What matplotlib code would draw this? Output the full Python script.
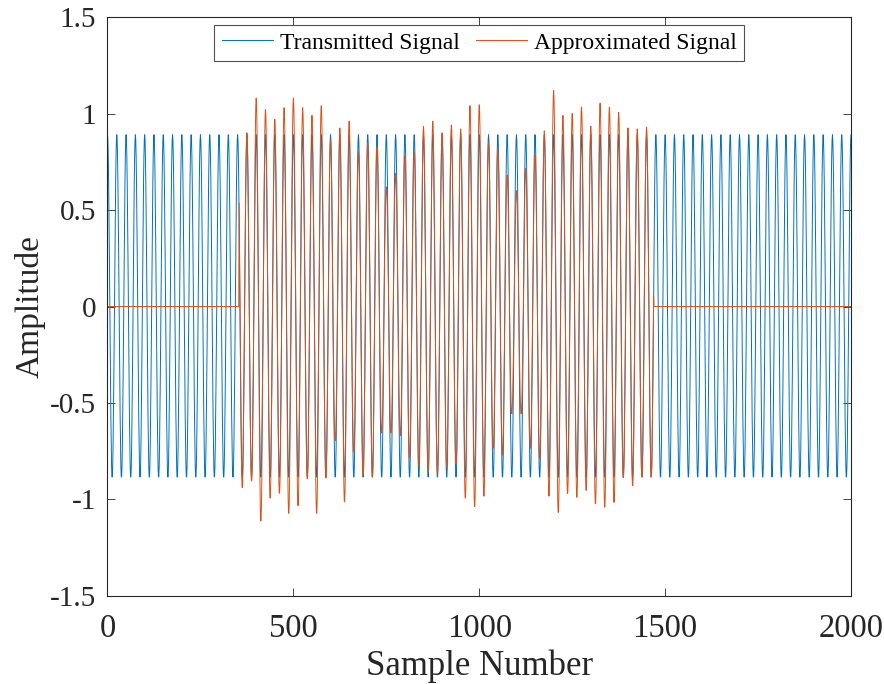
import numpy as np
import matplotlib
matplotlib.use("Agg")
import matplotlib.pyplot as plt
from matplotlib.ticker import FixedLocator, FixedFormatter

# ---- data -------------------------------------------------------------
n_samples = 2000
carrier_period = 25          # samples per cycle
tx_amplitude = 0.89          # transmitted carrier amplitude

# approximated signal is active between these samples
approx_start = 354
approx_end = 1469
approx_ref = 350             # sample of the first carrier peak in the burst

# extreme value of every half cycle of the approximated signal
approx_peaks = [1.00, 0.90, 1.08, 1.02, 0.97, 1.03, 1.08, 1.03, 0.99, 1.04,
                0.865, 0.925, 0.96, 0.805, 0.845, 0.825, 0.62, 0.69, 0.78, 0.805,
                0.934, 0.96, 0.90, 0.94, 0.92, 1.04, 1.045, 0.853, 0.815, 0.68,
                0.60, 0.715, 0.785, 0.91, 1.12, 0.99, 1.0, 1.034, 0.934, 1.053,
                1.033, 1.006, 0.925, 0.92, 0.93]
approx_troughs = [-0.945, -0.91, -1.12, -1.00, -0.975, -1.08, -1.04, -0.90, -1.08, -0.895,
                  -0.70, -1.02, -0.76, -0.88, -0.89, -0.66, -0.66, -0.675, -0.79, -0.83,
                  -0.86, -0.87, -0.84, -0.82, -1.00, -1.045, -0.99, -0.74, -0.775, -0.56,
                  -0.56, -0.74, -0.795, -0.99, -1.075, -0.976, -0.996, -0.96, -1.03, -1.048,
                  -1.022, -0.893, -0.936, -0.89, -0.89]

x_ticks = [0, 500, 1000, 1500, 2000]
x_ticklabels = ["0", "500", "1000", "1500", "2000"]
y_ticks = [-1.5, -1, -0.5, 0, 0.5, 1, 1.5]
y_ticklabels = ["-1.5", "-1", "-0.5", "0", "0.5", "1", "1.5"]

# ---- signals ----------------------------------------------------------
n = np.arange(n_samples + 1)
carrier = np.cos(2 * np.pi * n / carrier_period)
transmitted = tx_amplitude * carrier

# half-cycle envelope: peak, trough, peak, ...
envelope = np.empty(len(approx_peaks) + len(approx_troughs))
envelope[0::2] = np.abs(approx_peaks)
envelope[1::2] = np.abs(approx_troughs)

approximated = np.zeros_like(transmitted)
active = (n >= approx_start) & (n <= approx_end)
half_idx = np.rint((n[active] - approx_ref) / (carrier_period / 2)).astype(int)
half_idx = np.clip(half_idx, 0, len(envelope) - 1)
approximated[active] = envelope[half_idx] * carrier[active]

# ---- figure -----------------------------------------------------------
plt.rcParams["font.family"] = ["Liberation Serif", "DejaVu Serif"]
axis_gray = "#262626"

fig = plt.figure(figsize=(8.84, 6.84), dpi=100)
ax = fig.add_axes([0.1216, 0.1287, 0.9627 - 0.1216, 0.9751 - 0.1287])

ax.plot(n, transmitted, color="#0072BD", lw=0.7, label="Transmitted Signal")
ax.plot(n, approximated, color="#D95319", lw=0.7, label="Approximated Signal")

ax.set_xlim(0, n_samples)
ax.set_ylim(-1.5, 1.5)
ax.xaxis.set_major_locator(FixedLocator(x_ticks))
ax.xaxis.set_major_formatter(FixedFormatter(x_ticklabels))
ax.yaxis.set_major_locator(FixedLocator(y_ticks))
ax.yaxis.set_major_formatter(FixedFormatter(y_ticklabels))

ax.tick_params(direction="in", length=5.5, width=0.6, color=axis_gray,
               labelcolor=axis_gray, top=True, right=True)
ax.tick_params(axis="x", pad=12.5, labelsize=23.5)
ax.tick_params(axis="y", pad=8, labelsize=21)
for sp in ax.spines.values():
    sp.set_color(axis_gray)
    sp.set_linewidth(0.8)

ax.set_xlabel("Sample Number", fontsize=25, color=axis_gray, labelpad=4)
ax.set_ylabel("Amplitude", fontsize=24, color=axis_gray, labelpad=3)

leg = ax.legend(loc="upper center", bbox_to_anchor=(0.5, 0.987), ncol=2,
                fontsize=17, frameon=True, fancybox=False, borderaxespad=0,
                handlelength=2.15, handletextpad=0.3, columnspacing=0.7,
                borderpad=0.32)
leg.get_frame().set_edgecolor(axis_gray)
leg.get_frame().set_linewidth(0.8)
for t in leg.get_texts():
    t.set_color("#000000")

fig.savefig("out.png", dpi=100, facecolor="white")
